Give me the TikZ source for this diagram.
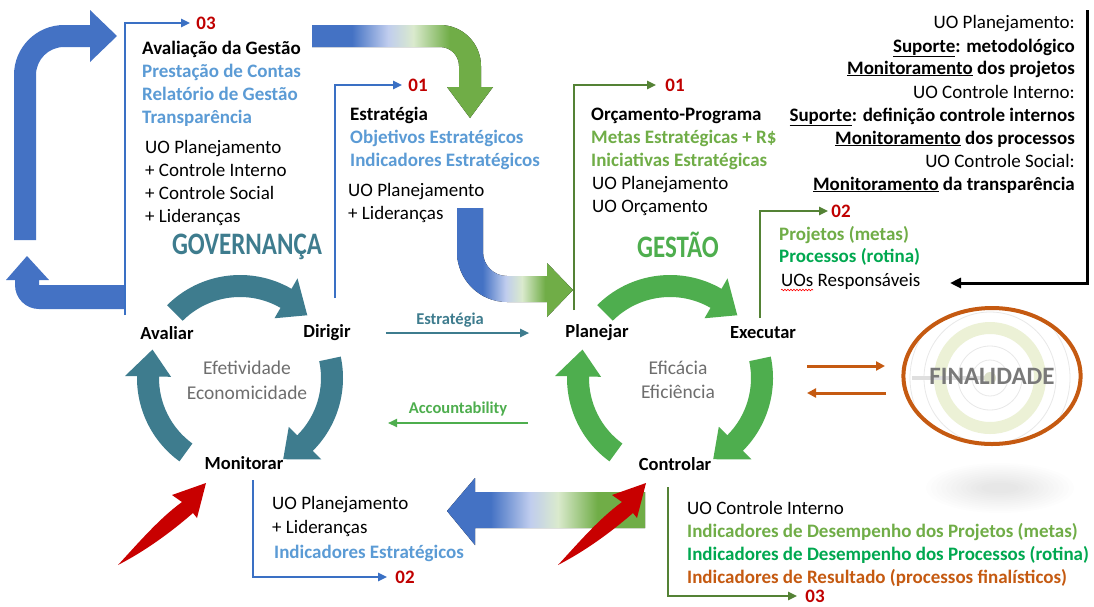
\documentclass[tikz,border=0pt]{standalone}
\usepackage{fontspec}
\setmainfont{Carlito}
\usetikzlibrary{arrows.meta,calc,shapes.geometric,decorations.pathmorphing}
\definecolor{tblue}{RGB}{91,155,213}
\definecolor{lblue}{RGB}{58,112,196}
\definecolor{bigblue}{RGB}{68,114,196}
\definecolor{lightb}{RGB}{192,205,238}
\definecolor{lightg}{RGB}{218,234,205}
\definecolor{teal2}{RGB}{62,124,142}
\definecolor{cgreen}{RGB}{78,174,78}
\definecolor{dgreen}{RGB}{84,130,53}
\definecolor{mgreen}{RGB}{112,173,71}
\definecolor{bgreen}{RGB}{0,168,80}
\definecolor{dred}{RGB}{192,0,0}
\definecolor{redarr}{RGB}{200,0,0}
\definecolor{orng}{RGB}{197,90,17}
\definecolor{gtxt}{RGB}{110,110,110}
\definecolor{ringg}{RGB}{236,241,214}
\pgfdeclarehorizontalshading{bgshade}{100bp}{color(0bp)=(bigblue); color(36bp)=(bigblue); color(46bp)=(lightb); color(53bp)=(lightg); color(63bp)=(mgreen); color(100bp)=(mgreen)}
\newcommand\cycarrow[4]{%
  \fill[#4] ($(#1)+(#2:103)$) arc[start angle=#2, end angle={#3-17}, radius=103]
    -- ($(#1)+({#3-17}:115)$) -- ($(#1)+(#3:92)$) -- ($(#1)+({#3-17}:69)$)
    -- ($(#1)+({#3-17}:81)$) arc[start angle={#3-17}, end angle=#2, radius=81] -- cycle;}
\tikzset{
 lt/.style={inner sep=0pt, anchor=base west, font=\fontsize{19}{23}\selectfont},
 ltb/.style={lt, font=\fontsize{19}{23}\selectfont\bfseries},
 rt/.style={inner sep=0pt, anchor=base east, font=\fontsize{19}{23}\selectfont},
 rtb/.style={rt, font=\fontsize{19}{23}\selectfont\bfseries},
 numr/.style={inner sep=0pt, font=\fontsize{19}{23}\selectfont\bfseries, text=dred},
 cyclbl/.style={inner sep=0pt, font=\fontsize{18.5}{22}\selectfont\bfseries},
 midtxt/.style={inner sep=0pt, font=\fontsize{19.5}{23}\selectfont, text=gtxt},
 blueln/.style={draw=lblue, line width=2.5pt, -{Triangle[length=9pt,width=8pt]}},
 greenln/.style={draw=dgreen, line width=2.5pt, -{Triangle[length=9pt,width=8pt]}},
 blackln/.style={draw=black, line width=3pt, -{Triangle[length=11pt,width=10pt]}},
 orangeln/.style={draw=orng, line width=3pt, -{Triangle[length=9pt,width=9pt]}},
 tealln/.style={draw=teal2, line width=2pt, -{Triangle[length=9pt,width=8pt]}},
 cgreenln/.style={draw=cgreen, line width=2pt, -{Triangle[length=9pt,width=8pt]}},
 bigarrow/.style={fill=bigblue},
 gradarrow/.style={shading=bgshade},
 redarrow/.style={fill=redarr},
}
\begin{document}
\begin{tikzpicture}[x=1pt,y=-1pt]
\useasboundingbox (0,0) rectangle (1094,606);
\fill[white] (0,0) rectangle (1094,606);

% ---------- big blue bent arrows (left) ----------
\fill[bigarrow] (14,240) -- (14,75) arc[start angle=180, end angle=270, radius=50]
  -- (90,25) -- (90,10) -- (117,36) -- (90,62) -- (90,47) -- (64,47)
  arc[start angle=270, end angle=180, radius=28] -- (36,240) -- cycle;
\fill[bigarrow] (125,309) -- (39,309) arc[start angle=90, end angle=180, radius=24]
  -- (15,280) -- (6,280) -- (27,256) -- (49,280) -- (39,280) -- (39,285) -- (125,285) -- cycle;

% ---------- gradient arrows ----------
\fill[gradarrow] (312,25) -- (440,25) arc[start angle=-90, end angle=0, radius=41]
  -- (481,87) -- (493,87) -- (470,118) -- (447,87) -- (459,87) -- (459,66)
  arc[start angle=0, end angle=-90, radius=19] -- (312,47) -- cycle;
\fill[gradarrow] (457,208) -- (457,252) arc[start angle=180, end angle=90, radius=50]
  -- (547,302) -- (547,317) -- (573,290) -- (547,263) -- (547,276) -- (507,276)
  arc[start angle=90, end angle=180, radius=24] -- (483,208) -- cycle;
\fill[gradarrow] (645,492) -- (475,492) -- (475,478) -- (447,511) -- (475,545) -- (475,528) -- (645,528) -- cycle;

% ---------- red arrows ----------
\fill[redarrow] (118,565) .. controls (140,541) and (160,518) .. (182,502) -- (172,495) -- (206,483)
  -- (197,518) -- (193,513) .. controls (170,533) and (145,551) .. (118,565) -- cycle;
\fill[redarrow] (558,565) .. controls (580,541) and (600,518) .. (622,502) -- (612,495) -- (646,483)
  -- (637,518) -- (633,513) .. controls (610,533) and (585,551) .. (558,565) -- cycle;

% ---------- cycles ----------
\coordinate (gc) at (240,378);
\coordinate (ec) at (670,378);
\cycarrow{gc}{-135}{-43}{teal2}
\cycarrow{gc}{-12}{62}{teal2}
\cycarrow{gc}{126}{198}{teal2}
\cycarrow{ec}{-135}{-43}{cgreen}
\cycarrow{ec}{-12}{62}{cgreen}
\cycarrow{ec}{126}{198}{cgreen}

\node[cyclbl] (avaliar) at (167,333) {Avaliar};
\node[cyclbl] (dirigir) at (327,333) {Dirigir};
\node[cyclbl] (monitorar) at (244,463) {Monitorar};
\node[cyclbl] (planejar) at (597,333) {Planejar};
\node[cyclbl] (executar) at (763,333) {Executar};
\node[cyclbl] (controlar) at (675,464) {Controlar};
\node[midtxt] (efet) at (247,368) {Efetividade};
\node[midtxt] (econ) at (247,393) {Economicidade};
\node[midtxt] (efic) at (678,368) {Eficácia};
\node[midtxt] (efici) at (678,392) {Eficiência};

\node[inner sep=0pt, text=teal2, font=\fontsize{25}{25}\selectfont\bfseries] (gov) at (247,247) {\scalebox{1}[1.25]{GOVERNANÇA}};
\node[inner sep=0pt, text=cgreen, font=\fontsize{25}{25}\selectfont\bfseries] (gest) at (678,245) {\scalebox{1}[1.25]{GESTÃO}};

% ---------- middle arrows ----------
\node[inner sep=0pt, text=teal2, font=\fontsize{16.5}{18}\selectfont\bfseries] (lestr) at (450,320) {Estratégia};
\draw[tealln, shorten <=35pt, shorten >=36pt] (dirigir.east) -- (planejar.west);
\node[inner sep=0pt, text=cgreen, font=\fontsize{16.5}{18}\selectfont\bfseries] (lacc) at (458,409) {Accountability};
\coordinate (acs) at (528,423);
\coordinate (ace) at (388,423);
\draw[cgreenln] (acs) -- (ace);

% ---------- text block: avaliacao ----------
\node[ltb] (ag) at (142,54) {Avaliação da Gestão};
\node[ltb, text=tblue] (pc) at (142,77) {Prestação de Contas};
\node[ltb, text=tblue] (rg) at (142,100) {Relatório de Gestão};
\node[ltb, text=tblue] (tp) at (142,123) {Transparência};
\node[lt] (up1) at (145,153) {UO Planejamento};
\node[lt] (ci1) at (145,176) {+ Controle Interno};
\node[lt] (cs1) at (145,199) {+ Controle Social};
\node[lt] (li1) at (145,222) {+ Lideranças};
\node[numr] (n03a) at (206,23) {03};
\coordinate (b1) at (125,315);
\draw[blueln, shorten >=6pt] (b1) |- (n03a.west);

% ---------- text block: estrategia ----------
\node[ltb] (es) at (350,120) {Estratégia};
\node[ltb, text=tblue] (oe) at (350,143) {Objetivos Estratégicos};
\node[ltb, text=tblue] (ie) at (350,166) {Indicadores Estratégicos};
\node[lt] (up2) at (348,196) {UO Planejamento};
\node[lt] (li2) at (348,219) {+ Lideranças};
\node[numr] (n01a) at (418,85) {01};
\coordinate (b2) at (335,298);
\draw[blueln, shorten >=6pt] (b2) |- (n01a.west);

% ---------- text block: orcamento ----------
\node[ltb] (op) at (591,120) {Orçamento-Programa};
\node[ltb, text=mgreen] (me) at (591,143) {Metas Estratégicas + R\$};
\node[ltb, text=mgreen] (ini) at (591,166) {Iniciativas Estratégicas};
\node[lt] (up3) at (592,189) {UO Planejamento};
\node[lt] (uoo) at (592,212) {UO Orçamento};
\node[numr] (n01b) at (675,85) {01};
\coordinate (g1) at (574,310);
\draw[greenln, shorten >=9pt] (g1) |- (n01b.west);

% ---------- text block: executar ----------
\node[ltb, text=mgreen] (pj) at (779,240) {Projetos (metas)};
\node[ltb, text=bgreen] (pr) at (779,262) {Processos (rotina)};
\node[lt] (uos) at (781,286) {UOs Responsáveis};
\draw[red, line width=0.6pt, decorate, decoration={snake, amplitude=0.8pt, segment length=3pt}]
  ($(uos.base west)+(0,4)$) -- ++(32,0);
\node[numr] (n02a) at (841,211) {02};
\coordinate (g2) at (760,318);
\draw[greenln, shorten >=3pt] (g2) |- (n02a.west);

% ---------- right text block ----------
\node[rt] (r1) at (1075,28) {UO Planejamento:};
\node[rtb] (r2) at (1075,52) {\underline{Suporte}: metodológico};
\node[rtb] (r3) at (1075,74) {\underline{Monitoramento} dos projetos};
\node[rt] (r4) at (1075,98) {UO Controle Interno:};
\node[rtb] (r5) at (1075,121) {\underline{Suporte}: definição controle internos};
\node[rtb] (r6) at (1075,144) {\underline{Monitoramento} dos processos};
\node[rt] (r7) at (1075,167) {UO Controle Social:};
\node[rtb] (r8) at (1075,190) {\underline{Monitoramento} da transparência};
\coordinate (bk1) at (1087,10);
\coordinate (bk2) at (950,283);
\draw[blackln] (bk1) |- (bk2);

% ---------- finalidade ----------
\foreach \i in {0,...,11} \fill[black, opacity=0.006] (1000,488) ellipse[x radius={74-5*\i}, y radius={25-1.8*\i}];
\fill[white] (992,376) ellipse[x radius=85, y radius=68];
\begin{scope}
  \clip (992,376) ellipse[x radius=85, y radius=68];
  \draw[ringg, line width=12pt] (990,378) circle[radius=50];
  \foreach \r in {18,32,66,80} \draw[gray!18, line width=0.8pt] (990,378) circle[radius=\r];
  \draw[gray!25, line width=4pt] (912,378) -- (985,378);
  \fill[ringg!85!gray] (990,378) circle[radius=6];
\end{scope}
\node[draw=orng, line width=4pt, ellipse, minimum width=170pt, minimum height=136pt, inner sep=0pt,
      text=gray!95!black, font=\fontsize{25}{25}\selectfont\bfseries] (fin) at (992,376) {FINALIDADE};
\coordinate (o1) at (807,366);
\coordinate (o2) at (885,366);
\coordinate (o3) at (886,393);
\coordinate (o4) at (807,393);
\draw[orangeln] (o1) -- (o2);
\draw[orangeln] (o3) -- (o4);

% ---------- bottom left block ----------
\node[lt] (up4) at (272,509) {UO Planejamento};
\node[lt] (li4) at (272,533) {+ Lideranças};
\node[ltb, text=tblue] (ie2) at (274,558) {Indicadores Estratégicos};
\node[numr] (n02b) at (405,577) {02};
\coordinate (b3) at (253,480);
\draw[blueln, shorten >=8pt] (b3) |- (n02b.west);

% ---------- bottom right block ----------
\node[lt] (uci) at (687,514) {UO Controle Interno};
\node[ltb, text=mgreen] (idp) at (687,537) {Indicadores de Desempenho dos Projetos (metas)};
\node[ltb, text=bgreen] (idr) at (687,560) {Indicadores de Desempenho dos Processos (rotina)};
\node[ltb, text=orng] (irs) at (687,583) {Indicadores de Resultado (processos finalísticos)};
\node[numr] (n03b) at (815,596) {03};
\coordinate (g3) at (668,487);
\draw[greenln, shorten >=8pt] (g3) |- (n03b.west);
\end{tikzpicture}
\end{document}
